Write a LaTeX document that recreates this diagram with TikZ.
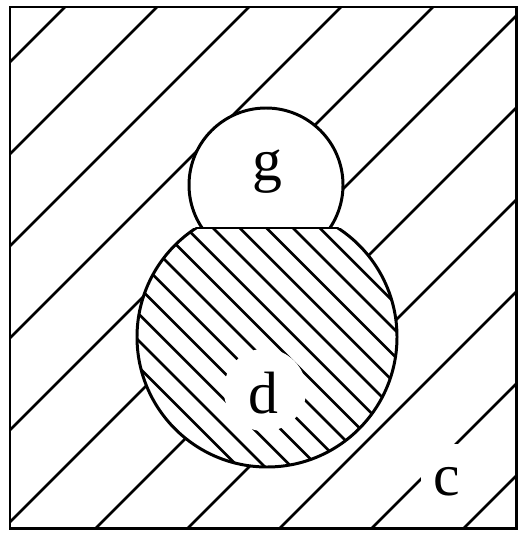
\documentclass[tikz,border=0pt]{standalone}
\usepackage{fontspec}
\setmainfont{Liberation Serif}

\begin{document}
\begin{tikzpicture}[
    x=0.02cm, y=-0.02cm,
    outline/.style={line width=1.7pt, line cap=round},
    hatchline/.style={line width=1.5pt},
    setlabel/.style={font=\fontsize{34}{40}\selectfont, inner sep=0pt},
    gap/.style={fill=white, inner sep=0pt},
]
\useasboundingbox (0,0) rectangle (518,533);

% ====== Universe c (hatched up-right) ======
\begin{scope}
  \clip (10,7) rectangle (516,528);
  \foreach \c in {72,164,...,992}
    \draw[hatchline] (\c,0) -- ({\c-600},600);
\end{scope}

% ====== Set g (blank, above the chord) ======
\begin{scope}
  \clip (0,0) rectangle (518,228);
  \fill[white] (266,185) circle[radius=77];
  \draw[outline] (266,185) circle[radius=77];
\end{scope}

% ====== Set d (hatched down-right, below the chord) ======
\begin{scope}
  \clip (0,228) rectangle (518,533);
  \fill[white] (267,337) circle[radius=130];
  \begin{scope}
    \clip (267,337) circle[radius=130];
    \foreach \k in {-10,...,6}
      \draw[hatchline] ({-15+26.7*\k+100},100) -- ({-15+26.7*\k+500},500);
  \end{scope}
  \draw[outline] (267,337) circle[radius=130];
\end{scope}
\draw[outline] (196,228) -- (338,228);

% ====== Labels ======
\node[gap, circle, minimum size=1.65cm] (gapD) at (265,390) {};
\node[gap, minimum width=1.0cm, minimum height=1.2cm] (gapC) at (446,474) {};
\node[setlabel] (lblG) at (267,172) {g};
\node[setlabel] (lblD) at (263,393) {d};
\node[setlabel] (lblC) at (447,482) {c};

% ====== Frame ======
\draw[outline] (10,7) rectangle (516,528);

\end{tikzpicture}
\end{document}
